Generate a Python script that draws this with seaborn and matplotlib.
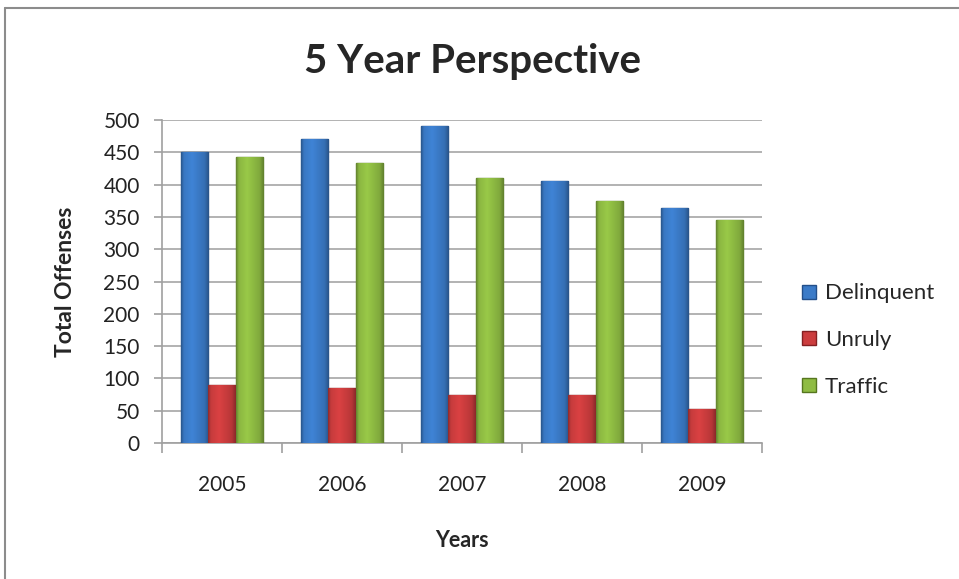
import numpy as np
import pandas as pd
import matplotlib
matplotlib.use('Agg')
import matplotlib.pyplot as plt
import seaborn as sns
from matplotlib.lines import Line2D
from matplotlib.colors import to_rgb

# Chart values
years = ['2005', '2006', '2007', '2008', '2009']
delinquent = [450, 470, 490, 406, 364]
unruly = [90, 85, 75, 75, 53]
traffic = [442, 433, 410, 375, 345]
series = ['Delinquent', 'Unruly', 'Traffic']
colors = ['#3b7bc8', '#cc3d3e', '#8fbc43']
edges = ['#234f8a', '#842022', '#56761f']

df = pd.DataFrame({'Years': years, 'Delinquent': delinquent,
                   'Unruly': unruly, 'Traffic': traffic})
long_df = df.melt(id_vars='Years', var_name='Offense', value_name='Total')

sns.set_style('white')
plt.rcParams['font.family'] = ['Lato', 'DejaVu Sans']

fig = plt.figure(figsize=(9.59, 5.79), dpi=100)
ax = fig.add_axes([162 / 959, 1 - 443 / 579, 600 / 959, 323 / 579])

sns.barplot(data=long_df, x='Years', y='Total', hue='Offense',
            hue_order=series, palette=colors, width=0.68, gap=0,
            saturation=1, legend=False, ax=ax, zorder=3)

# shaded look: horizontal gradient clipped to each bar, darker outline
t = np.linspace(0, 1, 64)
shade = np.interp(t, [0, 0.1, 0.4, 0.85, 1], [0.7, 0.97, 1.07, 0.9, 0.68])
for cont, col, ec in zip(ax.containers, colors, edges):
    rgb = np.array(to_rgb(col))
    grad = np.clip(shade[:, None] * rgb[None, :], 0, 1)[None, :, :]
    for bar in cont:
        bar.set_edgecolor(ec)
        bar.set_linewidth(1.0)
        x0, w, h = bar.get_x(), bar.get_width(), bar.get_height()
        im = ax.imshow(grad, extent=(x0, x0 + w, 0, h), aspect='auto',
                       interpolation='bilinear', zorder=3.5)
        im.set_clip_path(bar)

ax.set_ylim(0, 500)
ax.set_xlim(-0.5, 4.5)
ax.set_yticks(range(0, 501, 50))
ax.yaxis.grid(True, color='#a6a6a6', linewidth=1.2, zorder=0)
ax.set_axisbelow(True)

for side in ['top', 'right']:
    ax.spines[side].set_visible(False)
for side in ['left', 'bottom']:
    ax.spines[side].set_color('#a0a0a0')
    ax.spines[side].set_linewidth(1.2)

ax.tick_params(axis='y', labelsize=15, colors='#a0a0a0', labelcolor='#222222',
               length=6, width=1.2, direction='out', pad=10, left=True)
ax.tick_params(axis='x', labelsize=15, labelcolor='#222222', length=0, pad=23)
ax.set_xticks(range(len(years)), years)
ax.set_xticks([i - 0.5 for i in range(len(years) + 1)], minor=True)
ax.tick_params(axis='x', which='minor', length=7, width=1.2, colors='#a0a0a0',
               bottom=True, direction='out')

ax.set_xlabel('Years', fontsize=15.5, fontweight='bold', labelpad=25)
ax.set_ylabel('Total Offenses', fontsize=16.5, fontweight='bold', labelpad=20)

fig.text(473 / 959, 1 - 62 / 579, '5 Year Perspective', fontsize=29,
         fontweight='bold', ha='center', va='center')

handles = [Line2D([0], [0], marker='s', linestyle='', markersize=9.5,
                  markerfacecolor=c, markeredgecolor=e)
           for c, e in zip(colors, edges)]
fig.legend(handles, series, loc='center left', bbox_to_anchor=(778 / 959, 1 - 340 / 579),
           frameon=False, fontsize=16, labelspacing=1.2, handletextpad=0.2,
           handlelength=1.0)

# outer chart frame (top and left edges visible in the reference)
fig.add_artist(Line2D([5 / 959, 1], [1 - 8 / 579, 1 - 8 / 579],
                      transform=fig.transFigure, color='#8c8c8c', linewidth=1.5))
fig.add_artist(Line2D([5 / 959, 5 / 959], [0, 1 - 8 / 579],
                      transform=fig.transFigure, color='#8c8c8c', linewidth=1.5))

fig.savefig('out.png', dpi=100)
